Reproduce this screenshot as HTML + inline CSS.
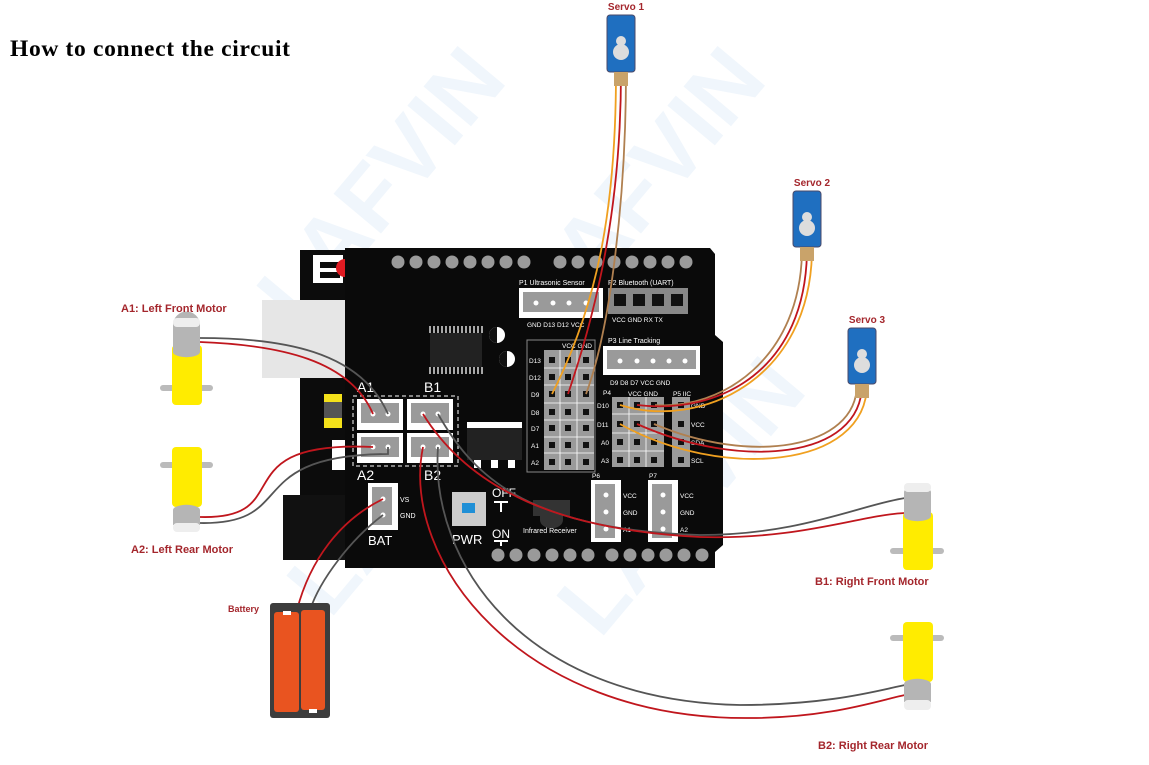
<!DOCTYPE html>
<html><head><meta charset="utf-8"><style>
html,body{margin:0;padding:0;background:#fff;}
svg{display:block;font-family:"Liberation Sans",sans-serif;}
</style></head><body>
<svg width="1149" height="765" viewBox="0 0 1149 765" xmlns="http://www.w3.org/2000/svg">
<text x="10" y="56" font-family="Liberation Serif" font-weight="bold" font-size="23.5" textLength="280" fill="#000">How to connect the circuit</text>
<!-- watermark -->
<g fill="#f0f6fc" font-size="90" font-weight="bold">
<text x="300" y="330" transform="rotate(-50 300 330)">LAFVIN</text>
<text x="560" y="330" transform="rotate(-50 560 330)">LAFVIN</text>
<text x="330" y="620" transform="rotate(-50 330 620)">LAFVIN</text>
<text x="600" y="640" transform="rotate(-50 600 640)">LAFVIN</text>
</g>
<!-- arduino underneath -->
<rect x="300" y="250" width="60" height="295" fill="#0c0c0c"/>
<rect x="313" y="255" width="30" height="28" fill="#fff"/>
<rect x="320" y="262" width="20" height="6" fill="#0c0c0c"/>
<rect x="320" y="272" width="20" height="6" fill="#0c0c0c"/>
<circle cx="345" cy="268" r="9" fill="#e01b22"/>
<rect x="262" y="300" width="85" height="78" fill="#e6e6e6"/>
<rect x="283" y="495" width="65" height="65" fill="#111"/>
<rect x="324" y="394" width="18" height="34" fill="#f4e11a"/>
<rect x="324" y="402" width="18" height="16" fill="#555"/>
<rect x="332" y="440" width="15" height="30" fill="#fff"/>
<!-- shield -->
<path d="M345 248 H710 L715 254 V335 L723 342 V545 L715 552 V568 H345 Z" fill="#0a0a0a"/>
<g fill="#9a9a9a">
<circle cx="398" cy="262" r="6.5"/><circle cx="416" cy="262" r="6.5"/><circle cx="434" cy="262" r="6.5"/><circle cx="452" cy="262" r="6.5"/><circle cx="470" cy="262" r="6.5"/><circle cx="488" cy="262" r="6.5"/><circle cx="506" cy="262" r="6.5"/><circle cx="524" cy="262" r="6.5"/>
<circle cx="560" cy="262" r="6.5"/><circle cx="578" cy="262" r="6.5"/><circle cx="596" cy="262" r="6.5"/><circle cx="614" cy="262" r="6.5"/><circle cx="632" cy="262" r="6.5"/><circle cx="650" cy="262" r="6.5"/><circle cx="668" cy="262" r="6.5"/><circle cx="686" cy="262" r="6.5"/>
<circle cx="498" cy="555" r="6.5"/><circle cx="516" cy="555" r="6.5"/><circle cx="534" cy="555" r="6.5"/><circle cx="552" cy="555" r="6.5"/><circle cx="570" cy="555" r="6.5"/><circle cx="588" cy="555" r="6.5"/>
<circle cx="612" cy="555" r="6.5"/><circle cx="630" cy="555" r="6.5"/><circle cx="648" cy="555" r="6.5"/><circle cx="666" cy="555" r="6.5"/><circle cx="684" cy="555" r="6.5"/><circle cx="702" cy="555" r="6.5"/>
</g>
<!-- chip -->
<rect x="430" y="333" width="52" height="34" fill="#222"/>
<g stroke="#ddd" stroke-width="1.5">
<path d="M430 326v7M434 326v7M438 326v7M442 326v7M446 326v7M450 326v7M454 326v7M458 326v7M462 326v7M466 326v7M470 326v7M474 326v7M478 326v7M482 326v7"/>
<path d="M430 367v7M434 367v7M438 367v7M442 367v7M446 367v7M450 367v7M454 367v7M458 367v7M462 367v7M466 367v7M470 367v7M474 367v7M478 367v7M482 367v7"/>
</g>
<circle cx="497" cy="335" r="8" fill="#fff"/><path d="M497 327a8 8 0 0 0 0 16z" fill="#111"/>
<circle cx="507" cy="359" r="8" fill="#fff"/><path d="M507 351a8 8 0 0 0 0 16z" fill="#111"/>
<!-- regulator -->
<rect x="467" y="422" width="55" height="6" fill="#fff"/>
<rect x="467" y="428" width="55" height="32" fill="#222"/>
<rect x="474" y="460" width="7" height="8" fill="#fff"/><rect x="491" y="460" width="7" height="8" fill="#fff"/><rect x="508" y="460" width="7" height="8" fill="#fff"/>
<!-- motor terminals -->
<rect x="353" y="396" width="105" height="70" fill="none" stroke="#fff" stroke-dasharray="4 3"/>
<g fill="#fff"><rect x="357" y="399" width="46" height="31"/><rect x="407" y="399" width="46" height="31"/><rect x="357" y="433" width="46" height="30"/><rect x="407" y="433" width="46" height="30"/></g>
<g fill="#9a9a9a"><rect x="361" y="403" width="38" height="20"/><rect x="411" y="403" width="38" height="20"/><rect x="361" y="437" width="38" height="20"/><rect x="411" y="437" width="38" height="20"/></g>
<g fill="#fff"><circle cx="373" cy="414" r="2.5"/><circle cx="388" cy="414" r="2.5"/><circle cx="423" cy="414" r="2.5"/><circle cx="438" cy="414" r="2.5"/><circle cx="373" cy="447" r="2.5"/><circle cx="388" cy="447" r="2.5"/><circle cx="423" cy="447" r="2.5"/><circle cx="438" cy="447" r="2.5"/></g>
<g fill="#fff" font-size="14"><text x="357" y="392">A1</text><text x="424" y="392">B1</text><text x="357" y="480">A2</text><text x="424" y="480">B2</text></g>
<!-- BAT -->
<rect x="368" y="483" width="30" height="47" fill="#fff"/><rect x="372" y="487" width="20" height="38" fill="#9a9a9a"/>
<circle cx="383" cy="499" r="2.5" fill="#fff"/><circle cx="383" cy="515" r="2.5" fill="#fff"/>
<g fill="#fff" font-size="7"><text x="400" y="502">VS</text><text x="400" y="518">GND</text></g>
<text x="368" y="545" fill="#fff" font-size="13">BAT</text>
<!-- PWR -->
<rect x="452" y="492" width="34" height="34" fill="#ccc"/><rect x="462" y="503" width="13" height="10" fill="#1f8fd6"/>
<text x="452" y="544" fill="#fff" font-size="13">PWR</text>
<text x="492" y="497" fill="#fff" font-size="12">OFF</text><path d="M494 502h14M501 502v10" stroke="#fff" stroke-width="2"/>
<text x="492" y="538" fill="#fff" font-size="12">ON</text><path d="M494 541h14M501 541v5" stroke="#fff" stroke-width="2"/>
<rect x="533" y="500" width="37" height="16" fill="#333"/><path d="M540 516h23v4a11 8 0 0 1-23 0z" fill="#333"/>
<text x="523" y="533" fill="#fff" font-size="7">Infrared  Receiver</text>
<!-- pin header block -->
<rect x="527" y="340" width="68" height="132" fill="none" stroke="#888"/>
<rect x="544" y="350" width="50" height="120" fill="#9a9a9a"/>
<g stroke="#fff" stroke-width="0.8"><path d="M544 368h50M544 385h50M544 403h50M544 420h50M544 437h50M544 453h50M560 350v120M577 350v120"/></g>
<g fill="#111">
<rect x="549" y="357" width="6" height="6"/><rect x="565" y="357" width="6" height="6"/><rect x="583" y="357" width="6" height="6"/>
<rect x="549" y="374" width="6" height="6"/><rect x="565" y="374" width="6" height="6"/><rect x="583" y="374" width="6" height="6"/>
<rect x="549" y="391" width="6" height="6"/><rect x="565" y="391" width="6" height="6"/><rect x="583" y="391" width="6" height="6"/>
<rect x="549" y="409" width="6" height="6"/><rect x="565" y="409" width="6" height="6"/><rect x="583" y="409" width="6" height="6"/>
<rect x="549" y="425" width="6" height="6"/><rect x="565" y="425" width="6" height="6"/><rect x="583" y="425" width="6" height="6"/>
<rect x="549" y="442" width="6" height="6"/><rect x="565" y="442" width="6" height="6"/><rect x="583" y="442" width="6" height="6"/>
<rect x="549" y="459" width="6" height="6"/><rect x="565" y="459" width="6" height="6"/><rect x="583" y="459" width="6" height="6"/>
</g>
<g fill="#fff" font-size="6.5"><text x="529" y="363">D13</text><text x="529" y="380">D12</text><text x="531" y="397">D9</text><text x="531" y="415">D8</text><text x="531" y="431">D7</text><text x="531" y="448">A1</text><text x="531" y="465">A2</text><text x="562" y="348">VCC GND</text></g>
<!-- P1 -->
<text x="519" y="285" fill="#fff" font-size="7">P1 Ultrasonic Sensor</text>
<rect x="519" y="288" width="84" height="30" fill="#fff"/><rect x="523" y="292" width="76" height="20" fill="#9a9a9a"/>
<g fill="#fff"><circle cx="536" cy="303" r="2.5"/><circle cx="553" cy="303" r="2.5"/><circle cx="569" cy="303" r="2.5"/><circle cx="586" cy="303" r="2.5"/></g>
<text x="527" y="327" fill="#fff" font-size="6.5">GND D13  D12  VCC</text>
<!-- P2 -->
<text x="608" y="285" fill="#fff" font-size="7">P2  Bluetooth (UART)</text>
<rect x="608" y="288" width="80" height="26" fill="#888"/>
<g fill="#111"><rect x="614" y="294" width="12" height="12"/><rect x="633" y="294" width="12" height="12"/><rect x="652" y="294" width="12" height="12"/><rect x="671" y="294" width="12" height="12"/></g>
<text x="612" y="322" fill="#fff" font-size="6.5">VCC  GND   RX    TX</text>
<!-- P3 -->
<text x="608" y="343" fill="#fff" font-size="7">P3 Line Tracking</text>
<rect x="603" y="346" width="97" height="29" fill="#fff"/><rect x="607" y="350" width="89" height="19" fill="#9a9a9a"/>
<g fill="#fff"><circle cx="620" cy="361" r="2.5"/><circle cx="637" cy="361" r="2.5"/><circle cx="653" cy="361" r="2.5"/><circle cx="669" cy="361" r="2.5"/><circle cx="685" cy="361" r="2.5"/></g>
<text x="610" y="385" fill="#fff" font-size="6.5">D9   D8   D7  VCC  GND</text>
<!-- P4/P5 -->
<text x="603" y="395" fill="#fff" font-size="6.5">P4</text><text x="628" y="396" fill="#fff" font-size="6.5">VCC  GND</text><text x="673" y="396" fill="#fff" font-size="6.5">P5 IIC</text>
<rect x="612" y="397" width="52" height="70" fill="#9a9a9a"/><rect x="672" y="397" width="18" height="70" fill="#9a9a9a"/>
<g stroke="#fff" stroke-width="0.8"><path d="M612 414h52M612 433h52M612 451h52M629 397v70M646 397v70"/></g>
<g fill="#111">
<rect x="617" y="402" width="6" height="6"/><rect x="634" y="402" width="6" height="6"/><rect x="651" y="402" width="6" height="6"/><rect x="678" y="402" width="6" height="6"/>
<rect x="617" y="421" width="6" height="6"/><rect x="634" y="421" width="6" height="6"/><rect x="651" y="421" width="6" height="6"/><rect x="678" y="421" width="6" height="6"/>
<rect x="617" y="439" width="6" height="6"/><rect x="634" y="439" width="6" height="6"/><rect x="651" y="439" width="6" height="6"/><rect x="678" y="439" width="6" height="6"/>
<rect x="617" y="457" width="6" height="6"/><rect x="634" y="457" width="6" height="6"/><rect x="651" y="457" width="6" height="6"/><rect x="678" y="457" width="6" height="6"/>
</g>
<g fill="#fff" font-size="6.5"><text x="597" y="408">D10</text><text x="597" y="427">D11</text><text x="601" y="445">A0</text><text x="601" y="463">A3</text><text x="691" y="408">GND</text><text x="691" y="427">VCC</text><text x="691" y="445">SDA</text><text x="691" y="463">SCL</text></g>
<!-- P6 P7 -->
<text x="592" y="478" fill="#fff" font-size="6.5">P6</text><text x="649" y="478" fill="#fff" font-size="6.5">P7</text>
<rect x="591" y="480" width="30" height="62" fill="#fff"/><rect x="595" y="484" width="20" height="54" fill="#9a9a9a"/>
<rect x="648" y="480" width="30" height="62" fill="#fff"/><rect x="652" y="484" width="20" height="54" fill="#9a9a9a"/>
<g fill="#fff"><circle cx="606" cy="495" r="2.5"/><circle cx="606" cy="512" r="2.5"/><circle cx="606" cy="529" r="2.5"/><circle cx="663" cy="495" r="2.5"/><circle cx="663" cy="512" r="2.5"/><circle cx="663" cy="529" r="2.5"/></g>
<g fill="#fff" font-size="6.5"><text x="623" y="498">VCC</text><text x="623" y="515">GND</text><text x="623" y="532">A1</text><text x="680" y="498">VCC</text><text x="680" y="515">GND</text><text x="680" y="532">A2</text></g>

<!-- wires -->
<g fill="none" stroke-width="1.8">
<path d="M200 338 C280 338 360 350 388 414" stroke="#555"/>
<path d="M200 342 C280 345 350 360 373 414" stroke="#c0161d"/>
<path d="M200 517 C300 520 220 440 373 447" stroke="#c0161d"/>
<path d="M200 523 C300 525 240 455 388 454 L388 447" stroke="#555"/>
<path d="M438 414 C470 470 520 530 700 535 C800 535 860 505 905 498" stroke="#555"/>
<path d="M423 414 C470 490 560 530 700 537 C800 540 860 515 905 513" stroke="#c0161d"/>
<path d="M423 447 C400 560 520 720 750 718 C830 718 880 700 905 695" stroke="#c0161d"/>
<path d="M438 447 C430 560 520 700 740 705 C830 705 880 690 905 685" stroke="#555"/>
<path d="M383 499 C340 520 310 560 297 610" stroke="#c0161d"/>
<path d="M383 515 C350 540 320 580 310 610" stroke="#555"/>
<path d="M616 72 C616 200 600 300 552 394" stroke="#f0a020"/>
<path d="M621 72 C621 200 600 300 568 394" stroke="#c0161d"/>
<path d="M626 72 C626 200 610 330 586 394" stroke="#b08050"/>
<path d="M802 248 C802 360 720 410 655 405" stroke="#b08050"/>
<path d="M807 248 C807 370 720 415 637 405" stroke="#c0161d"/>
<path d="M812 248 C812 380 700 430 620 405" stroke="#f0a020"/>
<path d="M857 384 C857 450 750 465 654 424" stroke="#b08050"/>
<path d="M862 384 C862 460 740 470 637 424" stroke="#c0161d"/>
<path d="M867 384 C867 470 720 480 620 424" stroke="#f0a020"/>
</g>

<!-- servos -->
<g>
<text x="626" y="10" text-anchor="middle" fill="#a4262c" font-size="10" font-weight="bold">Servo 1</text>
<rect x="607" y="15" width="28" height="57" rx="3" fill="#1f6fc0" stroke="#4a4a6a"/>
<circle cx="621" cy="52" r="8" fill="#ddd"/><circle cx="621" cy="41" r="5" fill="#ddd"/>
<rect x="614" y="72" width="14" height="14" fill="#c9a36a"/>
<text x="812" y="186" text-anchor="middle" fill="#a4262c" font-size="10" font-weight="bold">Servo 2</text>
<rect x="793" y="191" width="28" height="56" rx="3" fill="#1f6fc0" stroke="#4a4a6a"/>
<circle cx="807" cy="228" r="8" fill="#ddd"/><circle cx="807" cy="217" r="5" fill="#ddd"/>
<rect x="800" y="247" width="14" height="14" fill="#c9a36a"/>
<text x="867" y="323" text-anchor="middle" fill="#a4262c" font-size="10" font-weight="bold">Servo 3</text>
<rect x="848" y="328" width="28" height="56" rx="3" fill="#1f6fc0" stroke="#4a4a6a"/>
<circle cx="862" cy="365" r="8" fill="#ddd"/><circle cx="862" cy="354" r="5" fill="#ddd"/>
<rect x="855" y="384" width="14" height="14" fill="#c9a36a"/>
</g>

<!-- motors -->
<g>
<rect x="160" y="385" width="53" height="6" rx="3" fill="#bbb"/>
<rect x="172" y="345" width="30" height="60" rx="4" fill="#ffec00"/>
<path d="M173 325 a13 13 0 0 1 27 0 V352 a13 5 0 0 1 -27 0z" fill="#b5b5b5"/><rect x="173" y="318" width="27" height="9" rx="4" fill="#eee"/>
<text x="121" y="312" fill="#a4262c" font-size="11" font-weight="bold">A1: Left Front Motor</text>

<rect x="160" y="462" width="53" height="6" rx="3" fill="#bbb"/>
<rect x="172" y="447" width="30" height="60" rx="4" fill="#ffec00"/>
<path d="M173 510 a13 5 0 0 1 27 0 V525 H173z" fill="#b5b5b5"/><rect x="173" y="523" width="27" height="9" rx="4" fill="#eee"/>
<text x="131" y="553" fill="#a4262c" font-size="11" font-weight="bold">A2: Left Rear Motor</text>

<rect x="890" y="548" width="54" height="6" rx="3" fill="#bbb"/>
<rect x="903" y="512" width="30" height="58" rx="4" fill="#ffec00"/>
<path d="M904 492 a13 5 0 0 1 27 0 V516 a13 5 0 0 1 -27 0z" fill="#b5b5b5"/><rect x="904" y="483" width="27" height="9" rx="4" fill="#eee"/>
<text x="815" y="585" fill="#a4262c" font-size="11" font-weight="bold">B1: Right Front Motor</text>

<rect x="890" y="635" width="54" height="6" rx="3" fill="#bbb"/>
<rect x="903" y="622" width="30" height="60" rx="4" fill="#ffec00"/>
<path d="M904 684 a13 5 0 0 1 27 0 V702 H904z" fill="#b5b5b5"/><rect x="904" y="700" width="27" height="10" rx="4" fill="#eee"/>
<text x="818" y="749" fill="#a4262c" font-size="11" font-weight="bold">B2: Right Rear Motor</text>
</g>

<!-- battery -->
<text x="228" y="612" fill="#a4262c" font-size="9" font-weight="bold">Battery</text>
<rect x="270" y="603" width="60" height="115" rx="3" fill="#3d3d3d"/>
<rect x="274" y="612" width="25" height="100" rx="3" fill="#e95420"/>
<rect x="301" y="610" width="24" height="100" rx="3" fill="#e95420"/>
<rect x="283" y="611" width="8" height="4" fill="#fff"/><rect x="309" y="709" width="8" height="4" fill="#fff"/>
</svg>
</body></html>
